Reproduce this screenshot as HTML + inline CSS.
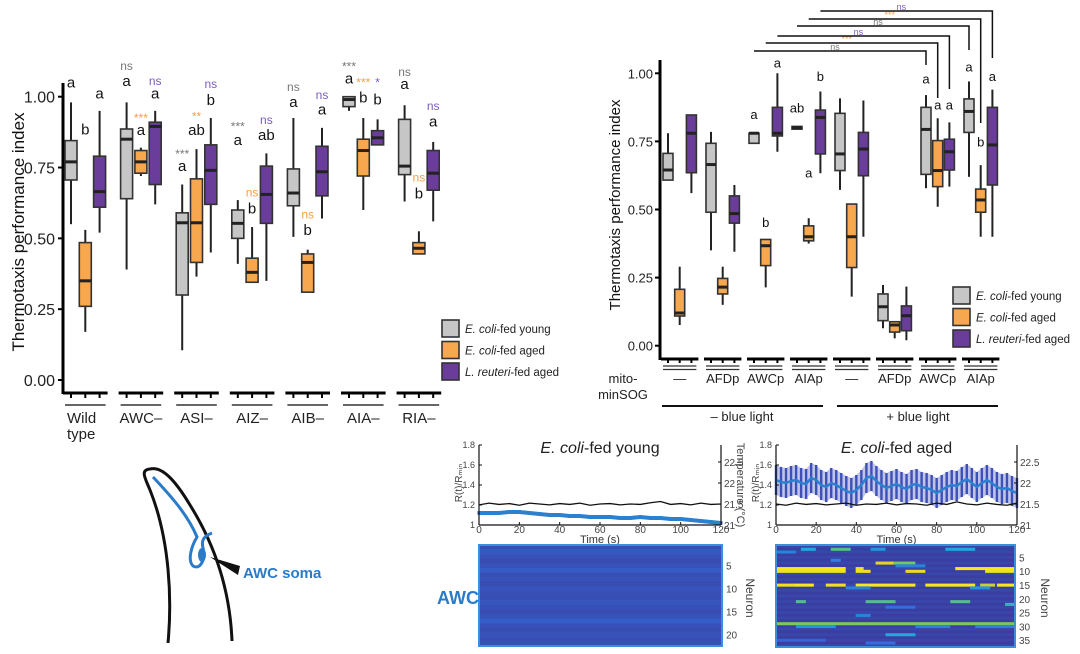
<!DOCTYPE html>
<html><head><meta charset="utf-8"><style>
html,body{margin:0;padding:0;background:#fff;}
svg{display:block;font-family:"Liberation Sans",Arial,sans-serif;}
</style></head><body>
<svg id="fig" width="1080" height="654" viewBox="0 0 1080 654" xmlns="http://www.w3.org/2000/svg">
<g id="gL"></g>
<g id="gR"></g>
<g id="gB"></g>
<g id="worm">
  <path d="M168,643 C172,600 170,540 150,490 C145,478 140,470 150,469 C162,466 175,480 190,505 C215,545 230,590 232,641" fill="none" stroke="#111" stroke-width="3"/>
  <path d="M153,477 C170,495 188,515 197,537 C192,545 187,560 193,566 C200,570 206,560 203,548 C201,540 204,536 212,533" fill="none" stroke="#2a7bc8" stroke-width="3"/>
  <ellipse cx="202" cy="555" rx="4" ry="7" fill="#2a7bc8"/>
  <polygon points="210,557 240,566 238,575" fill="#111"/>
  <text x="243" y="578" font-size="15" font-weight="bold" fill="#2a7bc8">AWC soma</text>
</g>
<text x="437" y="604" font-size="18" font-weight="bold" fill="#2a7bc8">AWC</text>
</svg>
<script>
// ===== Left chart data =====
const groupsL = ["Wild type","AWC–","ASI–","AIZ–","AIB–","AIA–","RIA–"];
const greyL = [[0.55,0.706,0.77,0.845,0.98],[0.39,0.64,0.85,0.886,0.98],[0.105,0.30,0.555,0.59,0.69],[0.41,0.50,0.553,0.60,0.635],[0.505,0.615,0.66,0.745,0.925],[0.95,0.965,0.99,1.0,1.0],[0.63,0.725,0.755,0.92,0.97]];
const orangeL = [[0.17,0.26,0.35,0.485,0.53],[0.72,0.73,0.77,0.81,0.82],[0.365,0.415,0.555,0.71,0.815],[0.345,0.345,0.38,0.43,0.54],[0.31,0.31,0.415,0.445,0.46],[0.60,0.72,0.81,0.85,0.925],[0.445,0.445,0.465,0.485,0.525]];
const purpleL = [[0.52,0.61,0.665,0.79,0.95],[0.62,0.69,0.895,0.91,0.95],[0.45,0.62,0.74,0.83,0.925],[0.35,0.553,0.655,0.755,0.80],[0.57,0.65,0.735,0.825,0.89],[0.83,0.83,0.855,0.88,0.92],[0.56,0.67,0.73,0.81,0.84]];
const annotL = [
[0,0,"a","l",1.05],[0,1,"b","l",0.885],[0,2,"a","l",1.012],
[1,0,"ns","g",1.108],[1,0,"a","l",1.056],[1,1,"***","o",0.924],[1,1,"a","l",0.882],[1,2,"ns","p",1.056],[1,2,"a","l",1.012],
[2,0,"***","g",0.798],[2,0,"a","l",0.755],[2,1,"**","o",0.93],[2,1,"ab","l",0.882],[2,2,"ns","p",1.045],[2,2,"b","l",0.988],
[3,0,"***","g",0.894],[3,0,"a","l",0.847],[3,1,"ns","o",0.661],[3,1,"b","l",0.606],[3,2,"ns","p",0.918],[3,2,"ab","l",0.865],
[4,0,"ns","g",1.035],[4,0,"a","l",0.982],[4,1,"ns","o",0.585],[4,1,"b","l",0.53],[4,2,"ns","p",1.006],[4,2,"a","l",0.955],
[5,0,"***","g",1.106],[5,0,"a","l",1.065],[5,1,"***","o",1.05],[5,1,"b","l",0.998],[5,2,"*","p",1.05],[5,2,"b","l",0.99],
[6,0,"ns","g",1.088],[6,0,"a","l",1.044],[6,1,"ns","o",0.714],[6,1,"b","l",0.659],[6,2,"ns","p",0.967],[6,2,"a","l",0.912]];
const ticksY = [0,0.25,0.5,0.75,1.0];
const tickLabelsY = ["0.00","0.25","0.50","0.75","1.00"];

// ===== Right chart data =====
const groupsR = ["—","AFDp","AWCp","AIAp","—","AFDp","AWCp","AIAp"];
const greyR = [[0.608,0.608,0.645,0.706,0.78],[0.35,0.49,0.665,0.743,0.785],[0.743,0.743,0.78,0.78,0.78],[0.795,0.795,0.80,0.805,0.805],[0.572,0.643,0.704,0.853,0.908],[0.064,0.092,0.143,0.19,0.223],[0.578,0.629,0.794,0.875,0.92],[0.62,0.783,0.86,0.906,0.97]];
const orangeR = [[0.076,0.109,0.12,0.207,0.29],[0.15,0.19,0.215,0.247,0.29],[0.214,0.294,0.367,0.39,0.39],[0.375,0.385,0.40,0.44,0.468],[0.18,0.287,0.40,0.52,0.52],[0.027,0.05,0.076,0.088,0.088],[0.51,0.584,0.643,0.753,0.835],[0.40,0.49,0.535,0.575,0.663]];
const purpleR = [[0.56,0.635,0.78,0.847,0.847],[0.345,0.45,0.485,0.55,0.59],[0.712,0.77,0.78,0.875,1.0],[0.633,0.704,0.838,0.865,0.933],[0.40,0.624,0.722,0.783,0.90],[0.02,0.055,0.11,0.146,0.217],[0.584,0.645,0.712,0.758,0.82],[0.40,0.59,0.737,0.875,0.94]];
const annotR = [[2,0,"a",0.85],[2,1,"b",0.455],[2,2,"a",1.04],[3,0,"ab",0.875],[3,1,"a",0.635],[3,2,"b",0.99],
[6,0,"a",0.98],[6,1,"a",0.885],[6,2,"a",0.885],[7,0,"a",1.025],[7,1,"b",0.75],[7,2,"a",0.99]];
const bracketsR = [[2,0,6,0,"ns","g"],[2,1,6,1,"***","o"],[2,2,6,2,"ns","p"],[3,0,7,0,"ns","g"],[3,1,7,1,"***","o"],[3,2,7,2,"ns","p"]];

// ===== Bottom traces data =====
const timeYoung = [0,5,10,15,20,25,30,35,40,45,50,55,60,65,70,75,80,85,90,95,100,105,110,115,120];
const ratioYoung = [1.12,1.12,1.12,1.13,1.13,1.12,1.11,1.10,1.10,1.09,1.09,1.08,1.08,1.08,1.07,1.07,1.08,1.07,1.07,1.06,1.06,1.05,1.04,1.03,1.02];
const errYoung = 0.018;
const timeAged = [0,2.5,5,7.5,10,12.5,15,17.5,20,22.5,25,27.5,30,32.5,35,37.5,40,42.5,45,47.5,50,52.5,55,57.5,60,62.5,65,67.5,70,72.5,75,77.5,80,82.5,85,87.5,90,92.5,95,97.5,100,102.5,105,107.5,110,112.5,115,117.5,120];
const ratioAged = [1.45,1.43,1.42,1.44,1.45,1.42,1.41,1.47,1.45,1.40,1.38,1.42,1.40,1.37,1.34,1.32,1.35,1.40,1.47,1.49,1.44,1.40,1.37,1.39,1.41,1.38,1.36,1.40,1.41,1.38,1.37,1.35,1.32,1.35,1.38,1.40,1.39,1.43,1.46,1.42,1.38,1.42,1.45,1.42,1.38,1.36,1.37,1.34,1.32];
const errAged = 0.15;
const tempTimes = [0,5,10,15,20,25,30,35,40,45,50,55,60,65,70,75,80,85,90,95,100,105,110,115,120];
const tempYoung = [21.48,21.52,21.49,21.51,21.47,21.52,21.50,21.48,21.51,21.49,21.52,21.47,21.50,21.51,21.48,21.50,21.49,21.53,21.56,21.49,21.51,21.48,21.52,21.49,21.50];
const tempAged = [21.50,21.47,21.52,21.49,21.51,21.48,21.50,21.52,21.47,21.50,21.49,21.52,21.48,21.51,21.50,21.47,21.52,21.49,21.55,21.50,21.48,21.52,21.49,21.47,21.52];
const xTickVals = [0,20,40,60,80,100,120];
const yRatioTicks = [1,1.2,1.4,1.6,1.8];
const yTempTicks = [21,21.5,22,22.5];
const heatYoungRows = [0.10,0.16,0.12,0.08,0.13,0.18,0.10,0.12,0.09,0.14,0.11,0.10,0.15,0.12,0.08,0.13,0.20,0.12,0.09,0.13,0.10,0.12];
const heatAgedSegs = [[1,25,40,0.45],[1,55,75,0.55],[1,95,110,0.4],[1,170,200,0.45],[2,0,20,0.35],[6,100,118,0.8],[6,118,140,0.6],[5,55,65,0.35],
[8,0,70,0.95],[9,0,70,0.9],[8,80,88,0.9],[9,80,95,0.9],[8,180,240,0.95],[9,210,240,0.9],[9,130,150,0.85],[7,120,150,0.35],
[14,0,18,0.9],[14,18,38,0.95],[14,50,70,0.9],[14,80,140,0.95],[14,150,200,0.95],[14,205,220,0.75],[14,222,240,0.95],[15,70,95,0.35],[15,195,215,0.4],
[20,20,30,0.55],[20,90,120,0.55],[20,175,195,0.55],[21,230,240,0.5],[22,110,140,0.3],[25,80,95,0.35],[28,0,240,0.62],[29,20,60,0.4],[29,140,175,0.35],[29,200,240,0.35],[32,110,140,0.45],[34,0,50,0.25],[35,90,120,0.3]];
const neuronTicksYoung = [5,10,15,20];
const neuronTicksAged = [5,10,15,20,25,30,35];

const NS="http://www.w3.org/2000/svg";
function mk(parent,tag,attrs,text){const e=document.createElementNS(NS,tag);for(const k in attrs)e.setAttribute(k,attrs[k]);if(text!==undefined)e.textContent=text;parent.appendChild(e);return e;}
const FILL=["#c6c6c6","#f7a74d","#6a3d9a"];
const KCOL={l:"#111",g:"#777",o:"#f5a040",p:"#7b5cc0"};

function drawBox(g,x,w,st,ys,fill,name){
  const grp=mk(g,"g",{});
  
  
  mk(grp,"line",{x1:x,x2:x,y1:ys(st[0]),y2:ys(st[4]),stroke:"#222","stroke-width":2});
  mk(grp,"rect",{x:x-w/2,y:ys(st[3]),width:w,height:Math.max(1.5,ys(st[1])-ys(st[3])),fill:fill,stroke:"#333","stroke-width":1.6});
  mk(grp,"line",{x1:x-w/2,x2:x+w/2,y1:ys(st[2]),y2:ys(st[2]),stroke:"#222","stroke-width":3});
}

// ===== LEFT CHART =====
(function(){
  const g=document.getElementById("gL");
  const y=v=>380-v*283.3;
  const x=(gi,s)=>71+55.6*gi+14.3*s;
  mk(g,"line",{x1:63,x2:63,y1:83,y2:394,stroke:"#000","stroke-width":3});
  ticksY.forEach((v,i)=>{
    mk(g,"line",{x1:58,x2:63,y1:y(v),y2:y(v),stroke:"#000","stroke-width":2});
    const t=mk(g,"text",{x:55,y:y(v)+6,"font-size":16,"text-anchor":"end",fill:"#222"},tickLabelsY[i]);
    
    
  });
  const yt=mk(g,"text",{x:0,y:0,"font-size":17,"text-anchor":"middle",fill:"#111",transform:"translate(24,232) rotate(-90)"},"Thermotaxis performance index");
  
  
  const sets=[greyL,orangeL,purpleL];
  groupsL.forEach((nm,gi)=>{
    for(let s=0;s<3;s++) drawBox(g,x(gi,s),12,sets[s][gi],y,FILL[s],"box-"+gi+"-"+s);
    mk(g,"line",{x1:x(gi,0)-8,x2:x(gi,2)+8,y1:393,y2:393,stroke:"#000","stroke-width":3});
    for(let s=0;s<3;s++) mk(g,"line",{x1:x(gi,s),x2:x(gi,s),y1:393,y2:398,stroke:"#000","stroke-width":2});
    mk(g,"line",{x1:x(gi,0)-6,x2:x(gi,2)+6,y1:405,y2:405,stroke:"#333","stroke-width":1.5});
    const parts=nm.split(" ");
    const lab=mk(g,"text",{x:parts.length>1?x(gi,0)-4:x(gi,1),y:423,"font-size":15,"text-anchor":parts.length>1?"start":"middle",fill:"#222"},parts[0]);
    
    
    if(parts.length>1) mk(lab,"tspan",{x:x(gi,0)-4,dy:16},parts[1]);
  });
  annotL.forEach(a=>{
    const big=a[3]==="l";
    const t=mk(g,"text",{x:x(a[0],a[1]),y:y(a[4])+(big?5:4),"font-size":big?15:12,"text-anchor":"middle",fill:KCOL[a[3]]},a[2]);
    
    
  });
  const leg=["E. coli","E. coli","L. reuteri"], legS=["-fed young","-fed aged","-fed aged"];
  for(let i=0;i<3;i++){
    const yy=320+21.5*i;
    const e=mk(g,"g",{});
    
    
    mk(e,"rect",{x:442,y:yy,width:17,height:17,fill:FILL[i],stroke:"#333","stroke-width":1.6});
    const t=mk(e,"text",{x:465,y:yy+13,"font-size":11.5,fill:"#222"});
    mk(t,"tspan",{"font-style":"italic"},leg[i]);
    mk(t,"tspan",{},legS[i]);
  }
})();

// ===== RIGHT CHART =====
(function(){
  const g=document.getElementById("gR");
  const y=v=>345.7-v*272.4;
  const x=(gi,s)=>668+43*gi+11.7*s;
  mk(g,"line",{x1:660,x2:660,y1:60,y2:360,stroke:"#000","stroke-width":3});
  ticksY.forEach((v,i)=>{
    mk(g,"line",{x1:655,x2:660,y1:y(v),y2:y(v),stroke:"#000","stroke-width":2});
    const t=mk(g,"text",{x:653,y:y(v)+5,"font-size":13,"text-anchor":"end",fill:"#222"},tickLabelsY[i]);
    
    
  });
  const yt=mk(g,"text",{x:0,y:0,"font-size":15,"text-anchor":"middle",fill:"#111",transform:"translate(620,205) rotate(-90)"},"Thermotaxis performance index");
  
  
  const sets=[greyR,orangeR,purpleR];
  groupsR.forEach((nm,gi)=>{
    for(let s=0;s<3;s++) drawBox(g,x(gi,s),10,sets[s][gi],y,FILL[s],"box-"+gi+"-"+s);
    mk(g,"line",{x1:x(gi,0)-7,x2:x(gi,2)+7,y1:359,y2:359,stroke:"#000","stroke-width":3});
    for(let s=0;s<3;s++) mk(g,"line",{x1:x(gi,s),x2:x(gi,s),y1:359,y2:363,stroke:"#000","stroke-width":2});
    mk(g,"line",{x1:x(gi,0)-5,x2:x(gi,2)+5,y1:366,y2:366,stroke:"#333","stroke-width":1.3});
    mk(g,"line",{x1:x(gi,0)-5,x2:x(gi,2)+5,y1:369.5,y2:369.5,stroke:"#333","stroke-width":1.3});
    const t=mk(g,"text",{x:x(gi,1),y:383,"font-size":13,"text-anchor":"middle",fill:"#222"},nm);
    
    
  });
  annotR.forEach(a=>{
    const t=mk(g,"text",{x:x(a[0],a[1]),y:y(a[3])+5,"font-size":13,"text-anchor":"middle",fill:"#111"},a[2]);
    
    
  });
  const by=[51,43,36,26,19,11], bdrop=[65,98,89,50,123,58];
  bracketsR.forEach((b,i)=>{
    const x1=x(b[0],b[1]), x2=x(b[2],b[3]);
    const e=mk(g,"g",{});
    
    
    mk(e,"polyline",{points:`${x1},${by[i]} ${x2},${by[i]} ${x2},${bdrop[i]}`,fill:"none",stroke:"#111","stroke-width":1.5});
    mk(e,"text",{x:(x1+x2)/2-5,y:by[i]-1,"font-size":9,"text-anchor":"middle",fill:KCOL[b[5]]},b[4]);
  });
  const m=mk(g,"text",{x:623,y:383,"font-size":13,"text-anchor":"middle",fill:"#222"},"mito-");
  
  
  mk(m,"tspan",{x:623,dy:16},"minSOG");
  mk(g,"line",{x1:662,x2:823,y1:406,y2:406,stroke:"#111","stroke-width":2});
  mk(g,"line",{x1:837,x2:998,y1:406,y2:406,stroke:"#111","stroke-width":2});
  const l1=mk(g,"text",{x:742,y:421,"font-size":13,"text-anchor":"middle",fill:"#222"},"– blue light");
  
  
  const l2=mk(g,"text",{x:918,y:421,"font-size":13,"text-anchor":"middle",fill:"#222"},"+ blue light");
  
  
  const leg=["E. coli","E. coli","L. reuteri"], legS=["-fed young","-fed aged","-fed aged"];
  for(let i=0;i<3;i++){
    const yy=287+21.5*i;
    const e=mk(g,"g",{});
    
    
    mk(e,"rect",{x:953,y:yy,width:17,height:17,fill:FILL[i],stroke:"#333","stroke-width":1.6});
    const t=mk(e,"text",{x:976,y:yy+13,"font-size":11.5,fill:"#222"});
    mk(t,"tspan",{"font-style":"italic"},leg[i]);
    mk(t,"tspan",{},legS[i]);
  }
})();

// ===== BOTTOM PANELS =====
function parula(v){
  const stops=[[0,[58,62,160]],[0.3,[50,110,220]],[0.45,[30,170,220]],[0.6,[110,200,100]],[0.8,[230,210,40]],[1,[250,240,20]]];
  for(let i=1;i<stops.length;i++){if(v<=stops[i][0]){const a=stops[i-1],b=stops[i],f=(v-a[0])/(b[0]-a[0]);return "rgb("+a[1].map((c,k)=>Math.round(c+(b[1][k]-c)*f)).join(",")+")";}}
  return "rgb(250,240,20)";
}
function tracePanel(g,x0,x1,title,times,vals,err,temps,showTemp,nameP){
  const X=t=>x0+t*(x1-x0)/120;
  const Y=v=>525-(v-1)*100;
  const YT=c=>525-(c-21)*42;
  const grp=mk(g,"g",{});
  
  
  const aged=err>0.05;
  if(aged){
    // shaded error envelope behind bars
    const up=times.map((t,i)=>X(t)+","+Y(vals[i]+err)).join(" ");
    const dn=times.slice().reverse().map((t,j)=>{const i=times.length-1-j;return X(t)+","+Y(vals[i]-err);}).join(" ");
    mk(grp,"polygon",{points:up+" "+dn,fill:"#8a93d6",opacity:0.55});
  }
  times.forEach((t,i)=>{
    mk(grp,"line",{x1:X(t),x2:X(t),y1:Y(vals[i]-err),y2:Y(vals[i]+err),stroke:"#3d4fb8","stroke-width":aged?2.4:3});
  });
  mk(grp,"polyline",{points:times.map((t,i)=>X(t)+","+Y(vals[i])).join(" "),fill:"none",stroke:"#2b80d0","stroke-width":aged?2.5:4});
  mk(grp,"polyline",{points:tempTimes.map((t,i)=>X(t)+","+YT(temps[i])).join(" "),fill:"none",stroke:"#111","stroke-width":1.3});
  mk(grp,"line",{x1:x0,x2:x0,y1:445,y2:525,stroke:"#111","stroke-width":1.2});
  mk(grp,"line",{x1:x0,x2:x1,y1:525,y2:525,stroke:"#111","stroke-width":1.2});
  mk(grp,"line",{x1:x1,x2:x1,y1:445,y2:525,stroke:"#111","stroke-width":1.2});
  yRatioTicks.forEach(v=>{mk(grp,"line",{x1:x0,x2:x0+3,y1:Y(v),y2:Y(v),stroke:"#111"});mk(grp,"text",{x:x0-4,y:Y(v)+3,"font-size":9,"text-anchor":"end",fill:"#444"},v===1?"1":v.toFixed(1));});
  yTempTicks.forEach(v=>{mk(grp,"line",{x1:x1-3,x2:x1,y1:YT(v),y2:YT(v),stroke:"#111"});mk(grp,"text",{x:x1+3,y:YT(v)+4,"font-size":10,fill:"#444"},String(v));});
  xTickVals.forEach(v=>{mk(grp,"line",{x1:X(v),x2:X(v),y1:522,y2:525,stroke:"#111"});mk(grp,"text",{x:X(v),y:533,"font-size":10,"text-anchor":"middle",fill:"#444"},String(v));});
  mk(grp,"text",{x:(x0+x1)/2,y:543,"font-size":11,"text-anchor":"middle",fill:"#333"},"Time (s)");
  const tl=mk(grp,"text",{x:(x0+x1)/2,y:453,"font-size":16,"text-anchor":"middle",fill:"#222"});
  mk(tl,"tspan",{"font-style":"italic"},"E. coli");
  mk(tl,"tspan",{},title);
  mk(grp,"text",{x:0,y:0,"font-size":10,"text-anchor":"middle",fill:"#444",transform:`translate(${x0-17},483) rotate(-90)`},"R(t)/R\u2098\u1d62\u2099");
  if(showTemp) mk(grp,"text",{x:0,y:0,"font-size":11,"text-anchor":"middle",fill:"#444",transform:`translate(${x1+16},485) rotate(90)`},"Temperature (°C)");
}
(function(){
  const g=document.getElementById("gB");
  tracePanel(g,479,721,"-fed young",timeYoung,ratioYoung,errYoung,tempYoung,true,"young-trace-plot");
  tracePanel(g,776,1017,"-fed aged",timeAged,ratioAged,errAged,tempAged,false,"aged-trace-plot");
  const hy=mk(g,"g",{});
  
  
  const n1=heatYoungRows.length, h1=(646-545)/n1;
  heatYoungRows.forEach((v,r)=>{
    const c=mk(hy,"rect",{x:479,y:545+r*h1,width:243,height:h1+0.3,fill:parula(v)});
    
    
  });
  mk(hy,"rect",{x:479,y:545,width:243,height:101,fill:"none",stroke:"#3b8ed8","stroke-width":2});
  neuronTicksYoung.forEach(n=>{mk(hy,"text",{x:726,y:545+(n-0.5)*h1+4,"font-size":10,fill:"#444"},String(n));});
  mk(hy,"text",{x:0,y:0,"font-size":12,"text-anchor":"middle",fill:"#444",transform:"translate(746,598) rotate(90)"},"Neuron");
  const ha=mk(g,"g",{});
  
  
  const n2=37, h2=(647-545)/n2, X2=t=>776+t*(1015-776)/240;
  mk(ha,"rect",{x:776,y:545,width:239,height:102,fill:parula(0)});
  for(let r=0;r<n2;r+=2) mk(ha,"rect",{x:776,y:545+r*h2,width:239,height:h2,fill:parula(0.05)});
  heatAgedSegs.forEach(s=>{
    const c=mk(ha,"rect",{x:X2(s[1]),y:545+s[0]*h2,width:X2(s[2])-X2(s[1]),height:h2+0.3,fill:parula(s[3])});
    
    
  });
  mk(ha,"rect",{x:776,y:545,width:239,height:102,fill:"none",stroke:"#3b8ed8","stroke-width":2});
  neuronTicksAged.forEach(n=>{mk(ha,"text",{x:1019,y:545+(n-0.5)*h2+4,"font-size":10,fill:"#444"},String(n));});
  mk(ha,"text",{x:0,y:0,"font-size":12,"text-anchor":"middle",fill:"#444",transform:"translate(1041,598) rotate(90)"},"Neuron");
})();
</script>
</body></html>
